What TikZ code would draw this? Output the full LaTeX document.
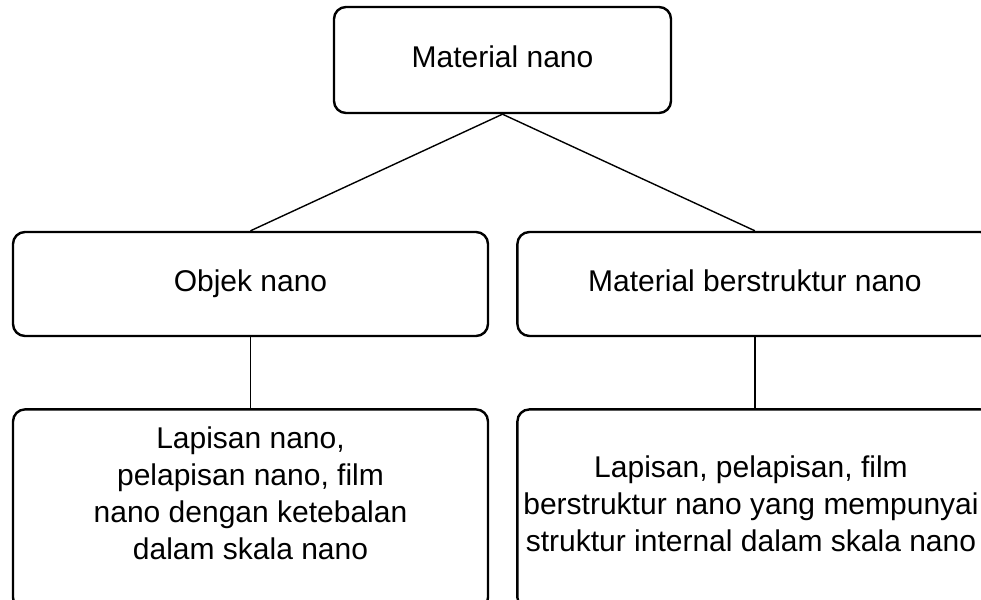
\documentclass[tikz,border=0pt]{standalone}
\usepackage{fontspec}
\setmainfont{Liberation Sans}
\usetikzlibrary{positioning}
\tikzset{every picture/.style={/utils/exec={\fontsize{15}{18.5}\selectfont}}}

\begin{document}
\begin{tikzpicture}[x=0.5pt, y=-0.5pt, line width=0.7pt,
    box/.style={draw, rounded corners=6pt, line width=1.2pt, align=center, inner sep=0pt},
    wide/.style={minimum width=237.5pt, minimum height=52pt},
    tall/.style={minimum height=100pt}]
    \useasboundingbox (0,0) rectangle (981,600);
    \clip (0,0) rectangle (981,600);

    \node[box, minimum width=168.5pt, minimum height=53pt] (material) at (502.5,60) {\strut Material nano};
    \node[box, wide] (objek) at (250.5,284) {\strut Objek nano};
    \node[box, wide, right=13.5pt of objek] (berstruktur) {\strut Material berstruktur nano};
    \node[box, wide, tall, below=35.5pt of objek] (lapisan) {};
    \node[box, wide, tall, below=35.5pt of berstruktur] (internal) {};

    \node[align=center] (lapisantext) at (250.5,493) {Lapisan nano,\\ pelapisan nano, film\\ nano dengan ketebalan\\ dalam skala nano};
    \node[align=center] (internaltext) at (751,504) {Lapisan, pelapisan, film\\ berstruktur nano yang mempunyai\\ struktur internal dalam skala nano};

    \draw (material.south) -- (objek.north);
    \draw (material.south) -- (berstruktur.north);
    \draw (objek.south) -- (lapisan.north);
    \draw (berstruktur.south) -- (internal.north);

\end{tikzpicture}
\end{document}
